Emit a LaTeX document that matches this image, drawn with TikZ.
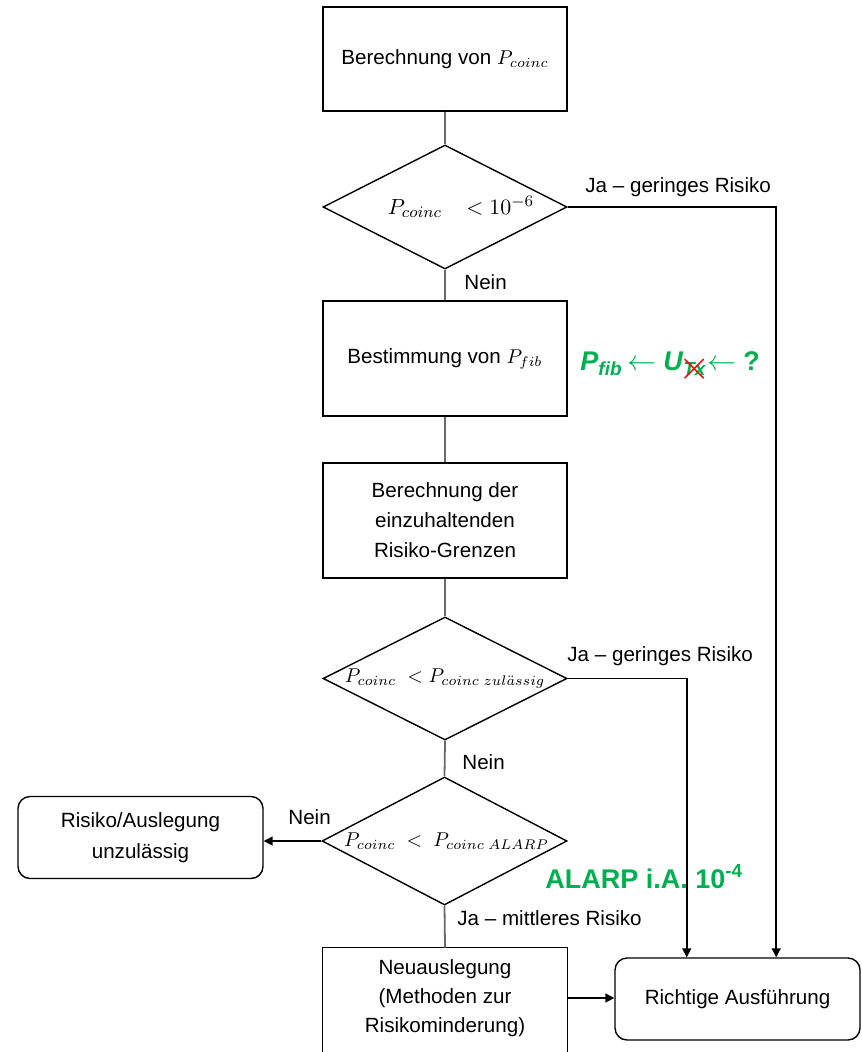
\documentclass[tikz,border=0pt]{standalone}
\usepackage{fontspec}
\setmainfont{Liberation Sans}
\usepackage{amsmath}
\usetikzlibrary{shapes.geometric,arrows.meta,calc}
\definecolor{connc}{RGB}{105,105,105}
\definecolor{ogreen}{RGB}{0,176,80}
\newcommand{\crossTx}{\ooalign{\textit{Tx}\cr\hidewidth\textcolor{red}{\raisebox{-2pt}{\normalfont\fontsize{20}{20}\selectfont$\times$}}\hidewidth\cr}}
\begin{document}
\begin{tikzpicture}[x=0.5pt,y=-0.5pt,
  every node/.style={font=\fontsize{10.3}{15}\selectfont},
  procbox/.style={draw, line width=0.7pt, minimum width=122pt, minimum height=57.5pt, align=center, inner sep=0},
  endbox/.style={draw, rounded corners=6pt, line width=0.7pt, minimum width=122.5pt, minimum height=41pt, align=center, inner sep=0},
  decision/.style={draw, diamond, line width=0.7pt, inner sep=0, minimum width=122pt, minimum height=62pt},
  conn/.style={draw=connc, line width=0.9pt},
  arr/.style={draw=black, line width=0.75pt, -{Triangle[length=4.5pt,width=4.5pt]}},
  lbl/.style={anchor=base west, inner sep=0},
  glbl/.style={anchor=base west, inner sep=0, text=ogreen, font=\fontsize{13.5}{16}\selectfont\bfseries}
]
\useasboundingbox (0,0) rectangle (861,1052);
\clip (0,0) rectangle (861,1052);

% nodes
\node[procbox, minimum height=52pt] (b1) at (445,59) {Berechnung von $P_{coinc}$};
\node[decision] (d1) at (445,207) {\makebox[0pt]{\hspace*{16pt}\fontsize{11}{13}\selectfont$P_{coinc}\;\;\;< 10^{-6}$}};
\node[procbox] (b2) at (445,358.5) {Bestimmung von $P_{fib}$};
\node[procbox] (b3) at (445,520.5) {Berechnung der\\einzuhaltenden\\Risiko-Grenzen};
\node[decision, minimum height=61.5pt] (d2) at (445,678.5) {\makebox[0pt]{$P_{coinc}\;< P_{coinc\;zul\ddot{a}ssig}$}};
\node[decision, minimum width=122.5pt, minimum height=64pt] (d3) at (444.5,841) {\makebox[0pt]{\hspace*{2pt}$P_{coinc}\;<\;P_{coinc\;ALARP}$}};
\node[endbox, font=\fontsize{10.3}{15.5}\selectfont] (r1) at (140.5,837.5) {Risiko/Auslegung\\unzulässig};
\node[minimum width=122pt, minimum height=50pt, align=center, inner sep=0, font=\fontsize{10.3}{14.5}\selectfont] (b4) at (445,998) {Neuauslegung\\(Methoden zur\\Risikominderung)};
\draw[line width=0.7pt] ([yshift=-10pt]b4.south west) -- (b4.north west) -- (b4.north east) -- ([yshift=-10pt]b4.south east);
\node[endbox] (b5) at (737.5,999) {Richtige Ausführung};

% connectors
\draw[conn] (b1.south) -- (d1.north);
\draw[conn] (d1.south) -- (b2.north);
\draw[conn] (b2.south) -- (b3.north);
\draw[conn] (b3.south) -- (d2.north);
\draw[conn] (d2.south) -- (d3.north);
\draw[conn] (d3.south) -- (b4.north);
\coordinate (j1) at ($(b5.north west)!0.657!(b5.north east)$);
\coordinate (j2) at ($(b5.north west)!0.294!(b5.north east)$);
\draw[arr] (d1.east) -| (j1);
\draw[arr] (d2.east) -| (j2);
\draw[arr] (d3.west) -- (d3.west -| r1.east);
\draw[arr] (b4.east) -- (b4.east -| b5.west);

% labels
\node[lbl] (l1) at (585,193) {Ja – geringes Risiko};
\node[lbl] (l2) at (464,290) {Nein};
\node[lbl] (l3) at (567,661) {Ja – geringes Risiko};
\node[lbl] (l4) at (462,769) {Nein};
\node[lbl] (l5) at (288,824) {Nein};
\node[lbl] (l6) at (457,925) {Ja – mittleres Risiko};
\node[glbl] (g1) at (580,371) {\textit{P}\textsubscript{\textit{fib}}\,$\leftarrow$ \textit{U}\textsubscript{\crossTx}$\leftarrow$ ?};
\node[glbl] (g2) at (545,888) {ALARP i.A. 10\textsuperscript{-4}};
\end{tikzpicture}
\end{document}
